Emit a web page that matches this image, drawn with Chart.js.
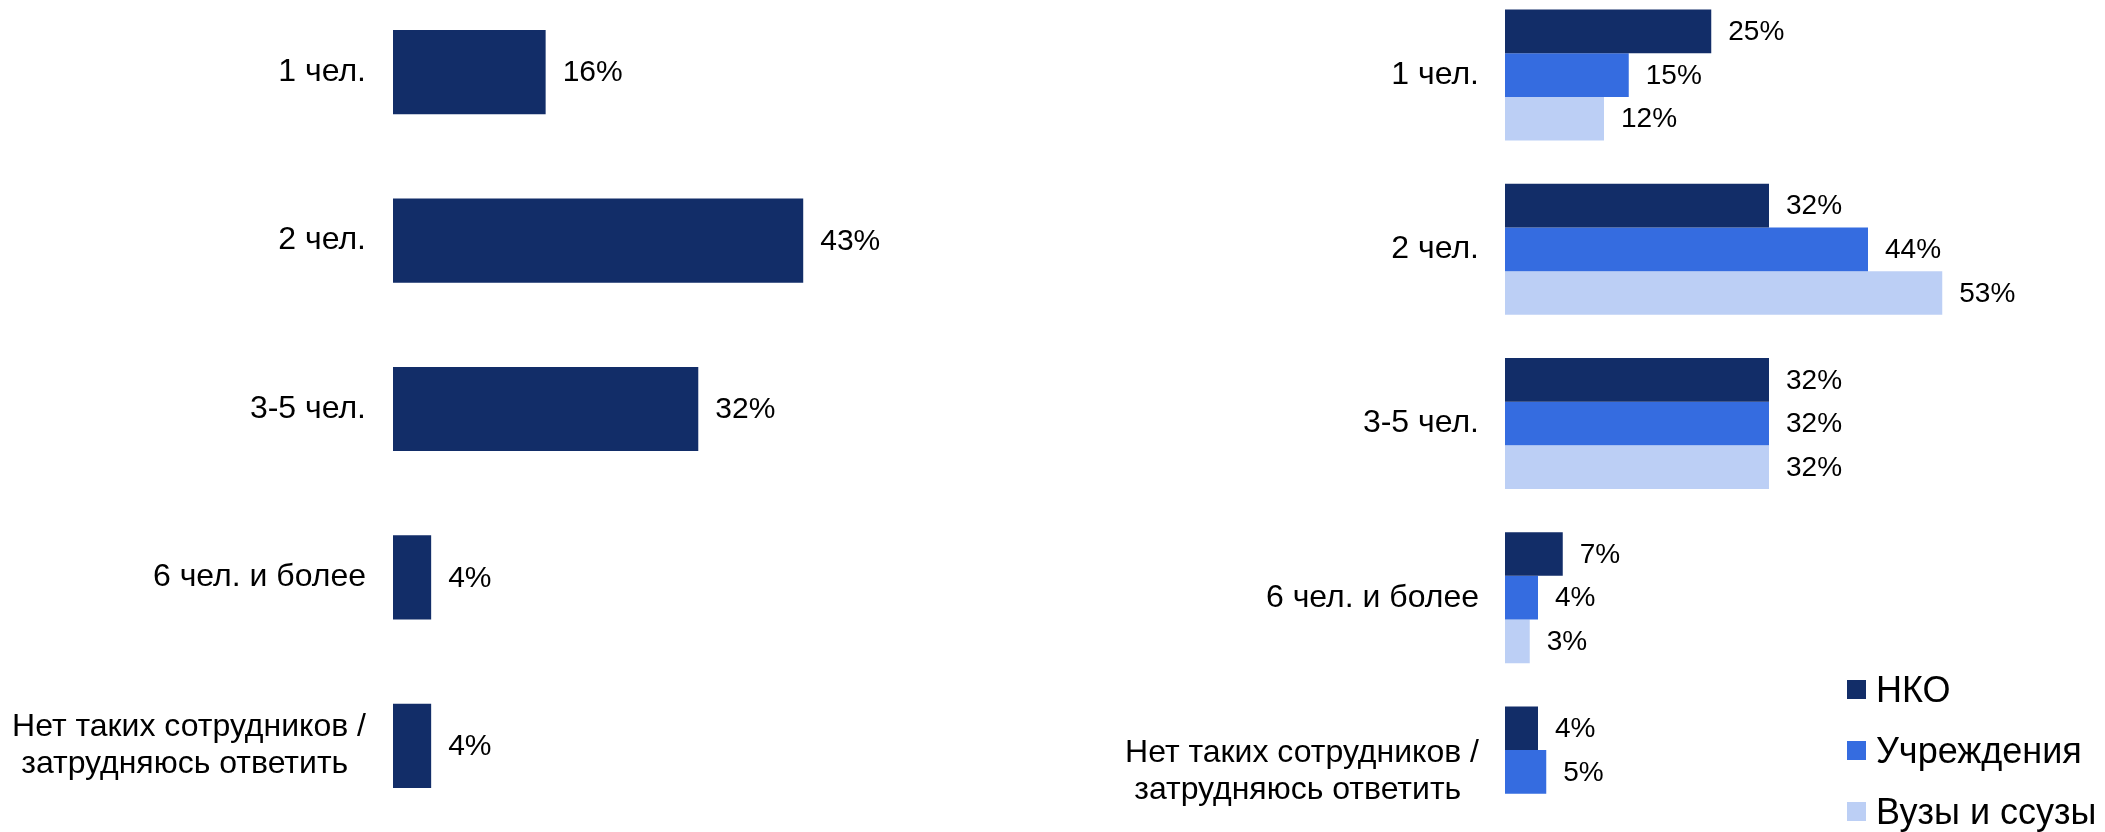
<!DOCTYPE html>
<html lang="ru">
<head>
<meta charset="utf-8">
<script src="https://cdn.jsdelivr.net/npm/chart.js@4/dist/chart.umd.min.js"></script>
<style>
html,body{margin:0;padding:0;background:#fff;width:2105px;height:832px;overflow:hidden;position:relative;font-family:"Liberation Sans",Arial,sans-serif;}
#boxL{position:absolute;left:0;top:-12px;width:970px;height:842px;}
#boxR{position:absolute;left:1100px;top:-12px;width:1000px;height:871px;}
#legend{position:absolute;left:1847px;top:659px;}
.row{height:61px;display:flex;align-items:center;font-size:36px;color:#000;white-space:nowrap}
.sw{width:19px;height:19px;margin-right:10px}
</style>
</head>
<body>
<div id="boxL"><canvas id="chartL"></canvas></div>
<div id="boxR"><canvas id="chartR"></canvas></div>
<div id="legend"></div>
<script>
// категории (подписи оси)
let categories = ['1 чел.', '2 чел.', '3-5 чел.', '6 чел. и более', ['Нет таких сотрудников /', 'затрудняюсь ответить\u00a0\u00a0']];
// левая диаграмма - все
let totalValues = [16, 43, 32, 4, 4];
// правая диаграмма - по типам организаций
let seriesNames = ['НКО', 'Учреждения', 'Вузы и ссузы'];
let nkoValues = [25, 32, 32, 7, 4];
let uchrValues = [15, 44, 32, 4, 5];
let vuzValues = [12, 53, 32, 3, null];
let seriesColors = ['#122d68', '#356ce0', '#bccff5'];

const fontFam = '"Liberation Sans", Arial, sans-serif';

// подписи значений справа от столбцов
const valueLabels = {
    id: 'valueLabels',
    afterDatasetsDraw(chart, args, opts) {
        const ctx = chart.ctx;
        ctx.save();
        ctx.font = opts.size + 'px ' + fontFam;
        ctx.fillStyle = '#000';
        ctx.textBaseline = 'middle';
        ctx.textAlign = 'left';
        chart.data.datasets.forEach((ds, i) => {
            chart.getDatasetMeta(i).data.forEach((bar, j) => {
                let v = ds.data[j];
                if (v == null) return;
                ctx.fillText(v + '%', bar.x + 17, bar.y + 1);
            });
        });
        ctx.restore();
    }
};

function makeOptions(axisWidth, pad, xMax, catPct, valSize) {
    return {
        indexAxis: 'y',
        responsive: true,
        maintainAspectRatio: false,
        animation: false,
        layout: {padding: {left: 0, right: 100, top: 0, bottom: 0}},
        datasets: {bar: {categoryPercentage: catPct, barPercentage: 1, borderWidth: 0}},
        scales: {
            x: {display: false, min: 0, max: xMax},
            y: {
                grid: {display: false, drawTicks: false},
                border: {display: false},
                ticks: {
                    color: '#000',
                    padding: pad,
                    font: {family: fontFam, size: 32, lineHeight: 1.16}
                },
                afterFit: function(scale) {
                    scale.width = axisWidth;
                    scale.paddingTop = 0;   // не отнимать место под подписи
                    scale.paddingBottom = 0;
                }
            }
        },
        plugins: {
            legend: {display: false},
            tooltip: {enabled: false},
            valueLabels: {size: valSize}
        }
    };
}

var chartL = new Chart(document.getElementById('chartL'), {
    type: 'bar',
    data: {
        labels: categories,
        datasets: [{label: 'Все', data: totalValues, backgroundColor: seriesColors[0]}]
    },
    options: makeOptions(393, 27, 50, 0.5, 30),
    plugins: [valueLabels]
});

var rightData = [nkoValues, uchrValues, vuzValues];
var chartR = new Chart(document.getElementById('chartR'), {
    type: 'bar',
    data: {
        labels: categories,
        datasets: seriesNames.map((n, i) => ({label: n, data: rightData[i], backgroundColor: seriesColors[i]}))
    },
    options: makeOptions(405, 26, 60, 0.752, 28),
    plugins: [valueLabels]
});

// легенда
let leg = document.getElementById('legend');
seriesNames.forEach((n, i) => {
    let row = document.createElement('div');
    row.className = 'row';
    row.innerHTML = '<span class="sw" style="background:' + seriesColors[i] + '"></span><span>' + n + '</span>';
    leg.appendChild(row);
});
</script>
</body>
</html>
